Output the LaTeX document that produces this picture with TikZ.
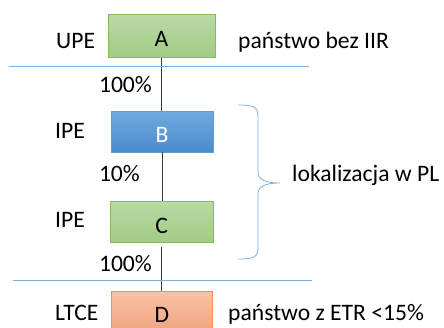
\documentclass[tikz,border=0pt]{standalone}
\usepackage{fontspec}
\setmainfont{Carlito}
\definecolor{grtop}{HTML}{B9D9A8}
\definecolor{grbot}{HTML}{A2CB84}
\definecolor{grline}{HTML}{82BC5E}
\definecolor{bltop}{HTML}{72A9DE}
\definecolor{blbot}{HTML}{4A8BCC}
\definecolor{blline}{HTML}{5E9BD4}
\definecolor{ortop}{HTML}{F7C3A7}
\definecolor{orbot}{HTML}{F2A47F}
\definecolor{orline}{HTML}{EF9058}
\definecolor{sepline}{HTML}{7FB1DF}
\definecolor{link}{HTML}{3A3A3A}
\begin{document}
\begin{tikzpicture}[x=1pt,y=-1pt,
  every node/.style={font=\fontsize{23.6}{28}\selectfont, text=black},
  entity/.style={draw, line width=0.8pt, inner sep=0pt, minimum width=102pt,
    minimum height=41pt, text height=22pt, text depth=0pt},
  greenbox/.style={entity, draw=grline, top color=grtop, bottom color=grbot},
  bluebox/.style={entity, draw=blline, top color=bltop, bottom color=blbot},
  orangebox/.style={entity, draw=orline, top color=ortop, bottom color=orbot},
  link/.style={draw=link, line width=0.8pt},
  sep/.style={draw=sepline, line width=0.8pt},
  lbl/.style={anchor=base west, inner sep=0pt},
  pct/.style={anchor=base east, inner sep=0pt}]
\useasboundingbox (0,0) rectangle (444,327);

% entities
\node[greenbox, minimum width=107pt, minimum height=43pt] (A) at (161.5,35.8) {A};
\node[bluebox] (B) at (162,131.5) {\textcolor{white}{B}};
\node[greenbox, minimum width=103pt] (C) at (161.7,222) {C};
\node[orangebox, minimum width=101pt] (D) at (162,311.5) {D};

% ownership links
\draw[link] (A.south) -- (A.south |- B.north);
\draw[link] (B.south) -- (B.south |- C.north);
\draw[link, shorten <=4pt] (C.south) -- (C.south |- D.north);

% separators
\draw[sep] (9,66.5) -- (309,66.5);
\draw[sep] (13,280.5) -- (312,280.5);

% brace around B and C
\draw[draw=sepline, line width=0.8pt]
  (238,105) .. controls (252,105) and (258,106) .. (258,116) -- (258,172)
  .. controls (258,180) and (266,183) .. (280,183)
  .. controls (266,183) and (258,186) .. (258,194) -- (258,248)
  .. controls (258,258) and (252,259) .. (238,259);

% labels
\node[lbl] (tA) at (56,48) {UPE};
\node[lbl] (sA) at (238,48) {państwo bez IIR};
\node[pct] (pAB) at (152,92.5) {100\%};
\node[lbl] (tB) at (55,138.5) {IPE};
\node[pct] (pBC) at (140,181.5) {10\%};
\node[lbl] (loc) at (292,181.5) {lokalizacja w PL};
\node[lbl] (tC) at (55,227) {IPE};
\node[pct] (pCD) at (152,271) {100\%};
\node[lbl] (tD) at (55,320) {LTCE};
\node[lbl] (sD) at (228,320) {państwo z ETR <15\%};
\end{tikzpicture}
\end{document}
